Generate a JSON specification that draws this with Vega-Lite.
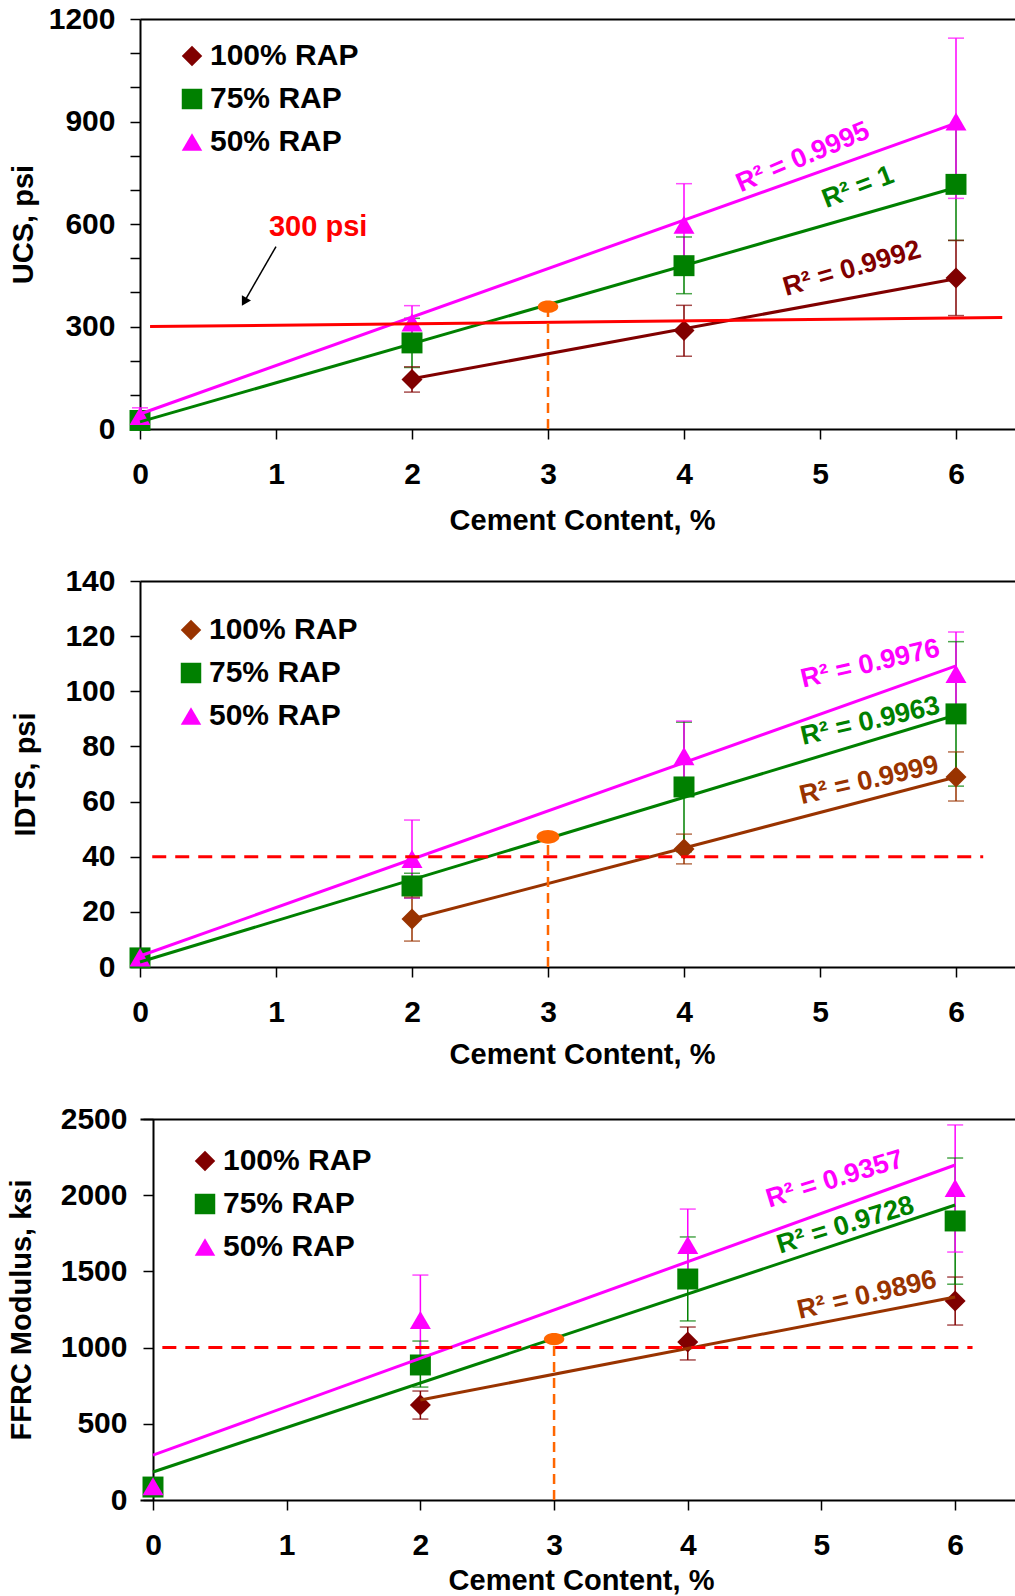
{
  "$schema": "https://vega.github.io/schema/vega-lite/v6.json",
  "background": "white",
  "padding": {"left": 7, "top": 4, "right": 0, "bottom": 0},
  "spacing": 152,
  "bounds": "flush",
  "resolve": {
    "scale": {"x": "independent", "y": "independent", "color": "independent", "shape": "independent", "fill": "independent", "stroke": "independent"},
    "legend": {"color": "independent", "shape": "independent"}
  },
  "config": {
    "font": "Liberation Sans",
    "view": {"stroke": null},
    "axis": {
      "labelFont": "Liberation Sans", "labelFontSize": 30, "labelFontWeight": "bold", "labelColor": "#000000",
      "titleFont": "Liberation Sans", "titleFontSize": 29, "titleFontWeight": "bold", "titleColor": "#000000",
      "domainColor": "#000000", "domainWidth": 2, "tickColor": "#000000", "tickWidth": 1.5, "tickSize": 10,
      "grid": false, "labelFlush": false, "labelOverlap": false
    },
    "legend": {
      "orient": "none", "labelFont": "Liberation Sans", "labelFontSize": 30, "labelFontWeight": "bold",
      "labelColor": "#000000", "symbolSize": 420, "symbolStrokeWidth": 0, "rowPadding": 13, "labelOffset": 3, "padding": 0
    }
  },
  "datasets": {
    "p1pts": [
      {"series": "100% RAP", "cc": 2, "v": 145, "lo": 108, "hi": 182},
      {"series": "100% RAP", "cc": 4, "v": 288, "lo": 213, "hi": 362},
      {"series": "100% RAP", "cc": 6, "v": 442, "lo": 332, "hi": 552},
      {"series": "75% RAP", "cc": 0, "v": 25, "lo": 15, "hi": 35},
      {"series": "75% RAP", "cc": 2, "v": 252, "lo": 180, "hi": 324},
      {"series": "75% RAP", "cc": 4, "v": 478, "lo": 396, "hi": 562},
      {"series": "75% RAP", "cc": 6, "v": 716, "lo": 552, "hi": 880},
      {"series": "50% RAP", "cc": 0, "v": 38, "lo": 14, "hi": 62},
      {"series": "50% RAP", "cc": 2, "v": 312, "lo": 263, "hi": 361},
      {"series": "50% RAP", "cc": 4, "v": 598, "lo": 478, "hi": 718},
      {"series": "50% RAP", "cc": 6, "v": 900, "lo": 675, "hi": 1144}
    ],
    "p1fit": [
      {"series": "100% RAP", "cc": 2, "v": 147}, {"series": "100% RAP", "cc": 6, "v": 440},
      {"series": "75% RAP", "cc": 0, "v": 21}, {"series": "75% RAP", "cc": 6, "v": 707},
      {"series": "50% RAP", "cc": 0, "v": 44}, {"series": "50% RAP", "cc": 6, "v": 895}
    ],
    "p1r2": [
      {"series": "50% RAP", "cc": 4.875, "v": 795, "label": "R² = 0.9995"},
      {"series": "75% RAP", "cc": 5.28, "v": 707, "label": "R² = 1"},
      {"series": "100% RAP", "cc": 5.235, "v": 469, "label": "R² = 0.9992"}
    ],
    "p1ref": [{"cc": 0.074, "v": 300}, {"cc": 6.34, "v": 326}],
    "p1opt": [{"cc": 3, "v": 358}],
    "p1optline": [{"cc": 3, "v": 0}, {"cc": 3, "v": 350}],
    "p1arrow": [{"cc": 1.0, "v": 534, "cc2": 0.76, "v2": 368}],
    "p1head": [{"cc": 0.766, "v": 372}],
    "p1note": [{"cc": 1.31, "v": 590, "label": "300 psi"}],
    "p2pts": [
      {"series": "100% RAP", "cc": 2, "v": 17.4, "lo": 9.4, "hi": 25.4},
      {"series": "100% RAP", "cc": 4, "v": 42.8, "lo": 37.4, "hi": 48.2},
      {"series": "100% RAP", "cc": 6, "v": 68.9, "lo": 60.2, "hi": 78},
      {"series": "75% RAP", "cc": 0, "v": 3.3, "lo": 1.5, "hi": 5},
      {"series": "75% RAP", "cc": 2, "v": 29.4, "lo": 25, "hi": 34},
      {"series": "75% RAP", "cc": 4, "v": 65.3, "lo": 41.8, "hi": 88.8},
      {"series": "75% RAP", "cc": 6, "v": 91.8, "lo": 65.6, "hi": 118},
      {"series": "50% RAP", "cc": 0, "v": 3.5, "lo": 1.5, "hi": 5.5},
      {"series": "50% RAP", "cc": 2, "v": 39.2, "lo": 25, "hi": 53.3},
      {"series": "50% RAP", "cc": 4, "v": 76.5, "lo": 63.8, "hi": 89.2},
      {"series": "50% RAP", "cc": 6, "v": 106.3, "lo": 91.1, "hi": 121.5}
    ],
    "p2fit": [
      {"series": "100% RAP", "cc": 2, "v": 17.4}, {"series": "100% RAP", "cc": 6, "v": 68.9},
      {"series": "75% RAP", "cc": 0, "v": 1.8}, {"series": "75% RAP", "cc": 6, "v": 91.4},
      {"series": "50% RAP", "cc": 0, "v": 4.0}, {"series": "50% RAP", "cc": 6, "v": 109.2}
    ],
    "p2r2": [
      {"series": "50% RAP", "cc": 5.37, "v": 109.9, "label": "R² = 0.9976"},
      {"series": "75% RAP", "cc": 5.37, "v": 89.1, "label": "R² = 0.9963"},
      {"series": "100% RAP", "cc": 5.36, "v": 67.6, "label": "R² = 0.9999"}
    ],
    "p2ref": [{"cc": 0.09, "v": 40}, {"cc": 6.2, "v": 40}],
    "p2opt": [{"cc": 3, "v": 47.2}],
    "p2optline": [{"cc": 3, "v": 0}, {"cc": 3, "v": 45}],
    "p3pts": [
      {"series": "100% RAP", "cc": 2, "v": 623, "lo": 531, "hi": 715},
      {"series": "100% RAP", "cc": 4, "v": 1037, "lo": 919, "hi": 1135},
      {"series": "100% RAP", "cc": 6, "v": 1306, "lo": 1148, "hi": 1463},
      {"series": "75% RAP", "cc": 0, "v": 85, "lo": 70, "hi": 100},
      {"series": "75% RAP", "cc": 2, "v": 886, "lo": 741, "hi": 1043},
      {"series": "75% RAP", "cc": 4, "v": 1450, "lo": 1175, "hi": 1726},
      {"series": "75% RAP", "cc": 6, "v": 1831, "lo": 1416, "hi": 2244},
      {"series": "50% RAP", "cc": 0, "v": 90, "lo": 80, "hi": 100},
      {"series": "50% RAP", "cc": 2, "v": 1181, "lo": 886, "hi": 1476},
      {"series": "50% RAP", "cc": 4, "v": 1673, "lo": 1437, "hi": 1909},
      {"series": "50% RAP", "cc": 6, "v": 2047, "lo": 1627, "hi": 2461}
    ],
    "p3fit": [
      {"series": "100% RAP", "cc": 2, "v": 656}, {"series": "100% RAP", "cc": 6, "v": 1332},
      {"series": "75% RAP", "cc": 0, "v": 184}, {"series": "75% RAP", "cc": 6, "v": 1936},
      {"series": "50% RAP", "cc": 0, "v": 295}, {"series": "50% RAP", "cc": 6, "v": 2198}
    ],
    "p3r2": [
      {"series": "50% RAP", "cc": 5.10, "v": 2104, "label": "R² = 0.9357"},
      {"series": "75% RAP", "cc": 5.18, "v": 1802, "label": "R² = 0.9728"},
      {"series": "100% RAP", "cc": 5.34, "v": 1343, "label": "R² = 0.9896"}
    ],
    "p3ref": [{"cc": 0.07, "v": 1000}, {"cc": 6.13, "v": 1000}],
    "p3opt": [{"cc": 3, "v": 1056}],
    "p3optline": [{"cc": 3, "v": 0}, {"cc": 3, "v": 1030}]
  },
  "vconcat": [
    {
      "width": 884, "height": 410,
      "resolve": {"axis": {"x": "independent"}},
      "layer": [
        {"data": {"name": "p1pts"}, "mark": {"type": "rule", "strokeWidth": 1.5},
         "encoding": {
           "x": {"field": "cc", "type": "quantitative", "scale": {"domain": [0, 6.5], "nice": false, "zero": false},
                 "axis": {"orient": "bottom", "values": [0, 1, 2, 3, 4, 5, 6], "format": "d", "title": "Cement Content, %", "labelPadding": 20, "titlePadding": 17, "labelOverlap": false}},
           "y": {"field": "lo", "type": "quantitative", "scale": {"domain": [0, 1200], "nice": false, "zero": false},
                 "axis": {"values": [0, 100, 200, 300, 400, 500, 600, 700, 800, 900, 1000, 1100, 1200], "format": "d", "labelOverlap": false, "labelExpr": "datum.value % 300 === 0 ? datum.label : ''", "title": "UCS, psi", "labelPadding": 15, "titlePadding": 10}},
           "y2": {"field": "hi"},
           "stroke": {"field": "series", "type": "nominal", "scale": {"domain": ["50% RAP", "75% RAP", "100% RAP"], "range": ["#FF00FF", "#008000", "#800000"]}, "legend": null}
         }},
        {"data": {"name": "p1pts"}, "mark": {"type": "tick", "orient": "horizontal", "size": 16, "thickness": 1.5},
         "encoding": {
           "x": {"field": "cc", "type": "quantitative", "axis": null},
           "y": {"field": "lo", "type": "quantitative", "axis": {"values": [0, 100, 200, 300, 400, 500, 600, 700, 800, 900, 1000, 1100, 1200], "format": "d", "labelOverlap": false, "labelExpr": "datum.value % 300 === 0 ? datum.label : ''", "title": "UCS, psi", "labelPadding": 15, "titlePadding": 10}},
           "fill": {"field": "series", "type": "nominal", "scale": {"domain": ["50% RAP", "75% RAP", "100% RAP"], "range": ["#FF00FF", "#008000", "#800000"]}, "legend": null}
         }},
        {"data": {"name": "p1pts"}, "mark": {"type": "tick", "orient": "horizontal", "size": 16, "thickness": 1.5},
         "encoding": {
           "x": {"field": "cc", "type": "quantitative", "axis": null},
           "y": {"field": "hi", "type": "quantitative", "axis": {"values": [0, 100, 200, 300, 400, 500, 600, 700, 800, 900, 1000, 1100, 1200], "format": "d", "labelOverlap": false, "labelExpr": "datum.value % 300 === 0 ? datum.label : ''", "title": "UCS, psi", "labelPadding": 15, "titlePadding": 10}},
           "fill": {"field": "series", "type": "nominal", "scale": {"domain": ["50% RAP", "75% RAP", "100% RAP"], "range": ["#FF00FF", "#008000", "#800000"]}, "legend": null}
         }},
        {"data": {"name": "p1pts"}, "mark": {"type": "point", "filled": true, "opacity": 1, "size": 440, "strokeWidth": 0},
         "encoding": {
           "x": {"field": "cc", "type": "quantitative", "axis": null},
           "y": {"field": "v", "type": "quantitative", "axis": {"values": [0, 100, 200, 300, 400, 500, 600, 700, 800, 900, 1000, 1100, 1200], "format": "d", "labelOverlap": false, "labelExpr": "datum.value % 300 === 0 ? datum.label : ''", "title": "UCS, psi", "labelPadding": 15, "titlePadding": 10}},
           "color": {"field": "series", "type": "nominal", "scale": {"domain": ["100% RAP", "75% RAP", "50% RAP"], "range": ["#800000", "#008000", "#FF00FF"]}, "legend": {"orient": "none", "title": null, "legendX": 37, "legendY": 22}},
           "shape": {"field": "series", "type": "nominal", "scale": {"domain": ["100% RAP", "75% RAP", "50% RAP"], "range": ["diamond", "square", "triangle-up"]}, "legend": {"orient": "none", "title": null, "legendX": 37, "legendY": 22}}
         }},
        {"data": {"name": "p1fit"}, "transform": [{"filter": "datum.series === '100% RAP'"}], "mark": {"type": "line", "color": "#800000", "strokeWidth": 3},
         "encoding": {"x": {"field": "cc", "type": "quantitative", "axis": null}, "y": {"field": "v", "type": "quantitative", "axis": {"values": [0, 100, 200, 300, 400, 500, 600, 700, 800, 900, 1000, 1100, 1200], "format": "d", "labelOverlap": false, "labelExpr": "datum.value % 300 === 0 ? datum.label : ''", "title": "UCS, psi", "labelPadding": 15, "titlePadding": 10}}}},
        {"data": {"name": "p1fit"}, "transform": [{"filter": "datum.series === '75% RAP'"}], "mark": {"type": "line", "color": "#008000", "strokeWidth": 3},
         "encoding": {"x": {"field": "cc", "type": "quantitative", "axis": null}, "y": {"field": "v", "type": "quantitative", "axis": {"values": [0, 100, 200, 300, 400, 500, 600, 700, 800, 900, 1000, 1100, 1200], "format": "d", "labelOverlap": false, "labelExpr": "datum.value % 300 === 0 ? datum.label : ''", "title": "UCS, psi", "labelPadding": 15, "titlePadding": 10}}}},
        {"data": {"name": "p1fit"}, "transform": [{"filter": "datum.series === '50% RAP'"}], "mark": {"type": "line", "color": "#FF00FF", "strokeWidth": 3},
         "encoding": {"x": {"field": "cc", "type": "quantitative", "axis": null}, "y": {"field": "v", "type": "quantitative", "axis": {"values": [0, 100, 200, 300, 400, 500, 600, 700, 800, 900, 1000, 1100, 1200], "format": "d", "labelOverlap": false, "labelExpr": "datum.value % 300 === 0 ? datum.label : ''", "title": "UCS, psi", "labelPadding": 15, "titlePadding": 10}}}},
        {"data": {"name": "p1ref"}, "mark": {"type": "line", "color": "#FF0000", "strokeWidth": 3},
         "encoding": {
           "x": {"field": "cc", "type": "quantitative", "axis": {"orient": "top", "labels": false, "ticks": false, "title": null, "domain": true}},
           "y": {"field": "v", "type": "quantitative", "axis": {"values": [0, 100, 200, 300, 400, 500, 600, 700, 800, 900, 1000, 1100, 1200], "format": "d", "labelOverlap": false, "labelExpr": "datum.value % 300 === 0 ? datum.label : ''", "title": "UCS, psi", "labelPadding": 15, "titlePadding": 10}}
         }},
        {"data": {"name": "p1optline"}, "mark": {"type": "line", "color": "#FF6600", "strokeWidth": 2.5, "strokeDash": [10, 6]},
         "encoding": {"x": {"field": "cc", "type": "quantitative", "axis": null}, "y": {"field": "v", "type": "quantitative", "axis": {"values": [0, 100, 200, 300, 400, 500, 600, 700, 800, 900, 1000, 1100, 1200], "format": "d", "labelOverlap": false, "labelExpr": "datum.value % 300 === 0 ? datum.label : ''", "title": "UCS, psi", "labelPadding": 15, "titlePadding": 10}}}},
        {"data": {"name": "p1opt"}, "mark": {"type": "point", "shape": "M -1 0 A 1 0.6 0 1 1 1 0 A 1 0.6 0 1 1 -1 0 Z", "filled": true, "opacity": 1, "size": 420, "color": "#FF6600", "strokeWidth": 0},
         "encoding": {"x": {"field": "cc", "type": "quantitative", "axis": null}, "y": {"field": "v", "type": "quantitative", "axis": {"values": [0, 100, 200, 300, 400, 500, 600, 700, 800, 900, 1000, 1100, 1200], "format": "d", "labelOverlap": false, "labelExpr": "datum.value % 300 === 0 ? datum.label : ''", "title": "UCS, psi", "labelPadding": 15, "titlePadding": 10}}}},
        {"data": {"name": "p1r2"}, "transform": [{"filter": "datum.series === '50% RAP'"}], "mark": {"type": "text", "color": "#FF00FF", "angle": 337, "fontSize": 27, "fontWeight": "bold", "font": "Liberation Sans"},
         "encoding": {"x": {"field": "cc", "type": "quantitative", "axis": null}, "y": {"field": "v", "type": "quantitative", "axis": {"values": [0, 100, 200, 300, 400, 500, 600, 700, 800, 900, 1000, 1100, 1200], "format": "d", "labelOverlap": false, "labelExpr": "datum.value % 300 === 0 ? datum.label : ''", "title": "UCS, psi", "labelPadding": 15, "titlePadding": 10}}, "text": {"field": "label"}}},
        {"data": {"name": "p1r2"}, "transform": [{"filter": "datum.series === '75% RAP'"}], "mark": {"type": "text", "color": "#008000", "angle": 339, "fontSize": 27, "fontWeight": "bold", "font": "Liberation Sans"},
         "encoding": {"x": {"field": "cc", "type": "quantitative", "axis": null}, "y": {"field": "v", "type": "quantitative", "axis": {"values": [0, 100, 200, 300, 400, 500, 600, 700, 800, 900, 1000, 1100, 1200], "format": "d", "labelOverlap": false, "labelExpr": "datum.value % 300 === 0 ? datum.label : ''", "title": "UCS, psi", "labelPadding": 15, "titlePadding": 10}}, "text": {"field": "label"}}},
        {"data": {"name": "p1r2"}, "transform": [{"filter": "datum.series === '100% RAP'"}], "mark": {"type": "text", "color": "#800000", "angle": 344, "fontSize": 27, "fontWeight": "bold", "font": "Liberation Sans"},
         "encoding": {"x": {"field": "cc", "type": "quantitative", "axis": null}, "y": {"field": "v", "type": "quantitative", "axis": {"values": [0, 100, 200, 300, 400, 500, 600, 700, 800, 900, 1000, 1100, 1200], "format": "d", "labelOverlap": false, "labelExpr": "datum.value % 300 === 0 ? datum.label : ''", "title": "UCS, psi", "labelPadding": 15, "titlePadding": 10}}, "text": {"field": "label"}}},
        {"data": {"name": "p1note"}, "mark": {"type": "text", "color": "#FF0000", "fontSize": 29, "fontWeight": "bold", "font": "Liberation Sans"},
         "encoding": {"x": {"field": "cc", "type": "quantitative", "axis": null}, "y": {"field": "v", "type": "quantitative", "axis": {"values": [0, 100, 200, 300, 400, 500, 600, 700, 800, 900, 1000, 1100, 1200], "format": "d", "labelOverlap": false, "labelExpr": "datum.value % 300 === 0 ? datum.label : ''", "title": "UCS, psi", "labelPadding": 15, "titlePadding": 10}}, "text": {"field": "label"}}},
        {"data": {"name": "p1arrow"}, "mark": {"type": "rule", "color": "#000000", "strokeWidth": 1.5},
         "encoding": {
           "x": {"field": "cc", "type": "quantitative", "axis": null},
           "y": {"field": "v", "type": "quantitative", "axis": {"values": [0, 100, 200, 300, 400, 500, 600, 700, 800, 900, 1000, 1100, 1200], "format": "d", "labelOverlap": false, "labelExpr": "datum.value % 300 === 0 ? datum.label : ''", "title": "UCS, psi", "labelPadding": 15, "titlePadding": 10}},
           "x2": {"field": "cc2"},
           "y2": {"field": "v2"}
         }},
        {"data": {"name": "p1head"}, "mark": {"type": "point", "shape": "triangle-up", "angle": 210, "filled": true, "opacity": 1, "size": 110, "color": "#000000", "strokeWidth": 0},
         "encoding": {"x": {"field": "cc", "type": "quantitative", "axis": null}, "y": {"field": "v", "type": "quantitative", "axis": {"values": [0, 100, 200, 300, 400, 500, 600, 700, 800, 900, 1000, 1100, 1200], "format": "d", "labelOverlap": false, "labelExpr": "datum.value % 300 === 0 ? datum.label : ''", "title": "UCS, psi", "labelPadding": 15, "titlePadding": 10}}}}
      ]
    },
    {
      "width": 884, "height": 386,
      "resolve": {"axis": {"x": "independent"}},
      "layer": [
        {"data": {"name": "p2pts"}, "mark": {"type": "rule", "strokeWidth": 1.5},
         "encoding": {
           "x": {"field": "cc", "type": "quantitative", "scale": {"domain": [0, 6.5], "nice": false, "zero": false},
                 "axis": {"orient": "bottom", "values": [0, 1, 2, 3, 4, 5, 6], "format": "d", "title": "Cement Content, %", "labelPadding": 20, "titlePadding": 13, "labelOverlap": false}},
           "y": {"field": "lo", "type": "quantitative", "scale": {"domain": [0, 140], "nice": false, "zero": false},
                 "axis": {"values": [0, 20, 40, 60, 80, 100, 120, 140], "format": "d", "labelOverlap": false, "title": "IDTS, psi", "labelPadding": 15, "titlePadding": 24}},
           "y2": {"field": "hi"},
           "stroke": {"field": "series", "type": "nominal", "scale": {"domain": ["50% RAP", "75% RAP", "100% RAP"], "range": ["#FF00FF", "#008000", "#993300"]}, "legend": null}
         }},
        {"data": {"name": "p2pts"}, "mark": {"type": "tick", "orient": "horizontal", "size": 16, "thickness": 1.5},
         "encoding": {
           "x": {"field": "cc", "type": "quantitative", "axis": null},
           "y": {"field": "lo", "type": "quantitative"},
           "fill": {"field": "series", "type": "nominal", "scale": {"domain": ["50% RAP", "75% RAP", "100% RAP"], "range": ["#FF00FF", "#008000", "#993300"]}, "legend": null}
         }},
        {"data": {"name": "p2pts"}, "mark": {"type": "tick", "orient": "horizontal", "size": 16, "thickness": 1.5},
         "encoding": {
           "x": {"field": "cc", "type": "quantitative", "axis": null},
           "y": {"field": "hi", "type": "quantitative"},
           "fill": {"field": "series", "type": "nominal", "scale": {"domain": ["50% RAP", "75% RAP", "100% RAP"], "range": ["#FF00FF", "#008000", "#993300"]}, "legend": null}
         }},
        {"data": {"name": "p2pts"}, "mark": {"type": "point", "filled": true, "opacity": 1, "size": 440, "strokeWidth": 0},
         "encoding": {
           "x": {"field": "cc", "type": "quantitative", "axis": null},
           "y": {"field": "v", "type": "quantitative"},
           "color": {"field": "series", "type": "nominal", "scale": {"domain": ["100% RAP", "75% RAP", "50% RAP"], "range": ["#993300", "#008000", "#FF00FF"]}, "legend": {"orient": "none", "title": null, "legendX": 36, "legendY": 34}},
           "shape": {"field": "series", "type": "nominal", "scale": {"domain": ["100% RAP", "75% RAP", "50% RAP"], "range": ["diamond", "square", "triangle-up"]}, "legend": {"orient": "none", "title": null, "legendX": 36, "legendY": 34}}
         }},
        {"data": {"name": "p2fit"}, "transform": [{"filter": "datum.series === '100% RAP'"}], "mark": {"type": "line", "color": "#993300", "strokeWidth": 3},
         "encoding": {"x": {"field": "cc", "type": "quantitative", "axis": null}, "y": {"field": "v", "type": "quantitative"}}},
        {"data": {"name": "p2fit"}, "transform": [{"filter": "datum.series === '75% RAP'"}], "mark": {"type": "line", "color": "#008000", "strokeWidth": 3},
         "encoding": {"x": {"field": "cc", "type": "quantitative", "axis": null}, "y": {"field": "v", "type": "quantitative"}}},
        {"data": {"name": "p2fit"}, "transform": [{"filter": "datum.series === '50% RAP'"}], "mark": {"type": "line", "color": "#FF00FF", "strokeWidth": 3},
         "encoding": {"x": {"field": "cc", "type": "quantitative", "axis": null}, "y": {"field": "v", "type": "quantitative"}}},
        {"data": {"name": "p2ref"}, "mark": {"type": "line", "color": "#FF0000", "strokeWidth": 3, "strokeDash": [14, 9]},
         "encoding": {
           "x": {"field": "cc", "type": "quantitative", "axis": {"orient": "top", "labels": false, "ticks": false, "title": null, "domain": true}},
           "y": {"field": "v", "type": "quantitative"}
         }},
        {"data": {"name": "p2optline"}, "mark": {"type": "line", "color": "#FF6600", "strokeWidth": 2.5, "strokeDash": [10, 6]},
         "encoding": {"x": {"field": "cc", "type": "quantitative", "axis": null}, "y": {"field": "v", "type": "quantitative"}}},
        {"data": {"name": "p2opt"}, "mark": {"type": "point", "shape": "M -1 0 A 1 0.6 0 1 1 1 0 A 1 0.6 0 1 1 -1 0 Z", "filled": true, "opacity": 1, "size": 520, "color": "#FF6600", "strokeWidth": 0},
         "encoding": {"x": {"field": "cc", "type": "quantitative", "axis": null}, "y": {"field": "v", "type": "quantitative"}}},
        {"data": {"name": "p2r2"}, "transform": [{"filter": "datum.series === '50% RAP'"}], "mark": {"type": "text", "color": "#FF00FF", "angle": 347, "fontSize": 27, "fontWeight": "bold", "font": "Liberation Sans"},
         "encoding": {"x": {"field": "cc", "type": "quantitative", "axis": null}, "y": {"field": "v", "type": "quantitative"}, "text": {"field": "label"}}},
        {"data": {"name": "p2r2"}, "transform": [{"filter": "datum.series === '75% RAP'"}], "mark": {"type": "text", "color": "#008000", "angle": 347, "fontSize": 27, "fontWeight": "bold", "font": "Liberation Sans"},
         "encoding": {"x": {"field": "cc", "type": "quantitative", "axis": null}, "y": {"field": "v", "type": "quantitative"}, "text": {"field": "label"}}},
        {"data": {"name": "p2r2"}, "transform": [{"filter": "datum.series === '100% RAP'"}], "mark": {"type": "text", "color": "#993300", "angle": 347, "fontSize": 27, "fontWeight": "bold", "font": "Liberation Sans"},
         "encoding": {"x": {"field": "cc", "type": "quantitative", "axis": null}, "y": {"field": "v", "type": "quantitative"}, "text": {"field": "label"}}}
      ]
    },
    {
      "width": 882, "height": 381,
      "resolve": {"axis": {"x": "independent"}},
      "layer": [
        {"data": {"name": "p3pts"}, "mark": {"type": "rule", "strokeWidth": 1.5},
         "encoding": {
           "x": {"field": "cc", "type": "quantitative", "scale": {"domain": [-0.0972, 6.5], "nice": false, "zero": false},
                 "axis": {"orient": "bottom", "values": [0, 1, 2, 3, 4, 5, 6], "format": "d", "title": "Cement Content, %", "labelPadding": 20, "titlePadding": 6, "labelOverlap": false}},
           "y": {"field": "lo", "type": "quantitative", "scale": {"domain": [0, 2500], "nice": false, "zero": false},
                 "axis": {"values": [0, 500, 1000, 1500, 2000, 2500], "format": "d", "labelOverlap": false, "title": "FFRC Modulus, ksi", "labelPadding": 16, "titlePadding": 24, "offset": -13}},
           "y2": {"field": "hi"},
           "stroke": {"field": "series", "type": "nominal", "scale": {"domain": ["50% RAP", "75% RAP", "100% RAP"], "range": ["#FF00FF", "#008000", "#800000"]}, "legend": null}
         }},
        {"data": {"name": "p3pts"}, "mark": {"type": "tick", "orient": "horizontal", "size": 16, "thickness": 1.5},
         "encoding": {
           "x": {"field": "cc", "type": "quantitative", "axis": null},
           "y": {"field": "lo", "type": "quantitative"},
           "fill": {"field": "series", "type": "nominal", "scale": {"domain": ["50% RAP", "75% RAP", "100% RAP"], "range": ["#FF00FF", "#008000", "#800000"]}, "legend": null}
         }},
        {"data": {"name": "p3pts"}, "mark": {"type": "tick", "orient": "horizontal", "size": 16, "thickness": 1.5},
         "encoding": {
           "x": {"field": "cc", "type": "quantitative", "axis": null},
           "y": {"field": "hi", "type": "quantitative"},
           "fill": {"field": "series", "type": "nominal", "scale": {"domain": ["50% RAP", "75% RAP", "100% RAP"], "range": ["#FF00FF", "#008000", "#800000"]}, "legend": null}
         }},
        {"data": {"name": "p3pts"}, "mark": {"type": "point", "filled": true, "opacity": 1, "size": 440, "strokeWidth": 0},
         "encoding": {
           "x": {"field": "cc", "type": "quantitative", "axis": null},
           "y": {"field": "v", "type": "quantitative"},
           "color": {"field": "series", "type": "nominal", "scale": {"domain": ["100% RAP", "75% RAP", "50% RAP"], "range": ["#800000", "#008000", "#FF00FF"]}, "legend": {"orient": "none", "title": null, "legendX": 50, "legendY": 27}},
           "shape": {"field": "series", "type": "nominal", "scale": {"domain": ["100% RAP", "75% RAP", "50% RAP"], "range": ["diamond", "square", "triangle-up"]}, "legend": {"orient": "none", "title": null, "legendX": 50, "legendY": 27}}
         }},
        {"data": {"name": "p3fit"}, "transform": [{"filter": "datum.series === '100% RAP'"}], "mark": {"type": "line", "color": "#993300", "strokeWidth": 3},
         "encoding": {"x": {"field": "cc", "type": "quantitative", "axis": null}, "y": {"field": "v", "type": "quantitative"}}},
        {"data": {"name": "p3fit"}, "transform": [{"filter": "datum.series === '75% RAP'"}], "mark": {"type": "line", "color": "#008000", "strokeWidth": 3},
         "encoding": {"x": {"field": "cc", "type": "quantitative", "axis": null}, "y": {"field": "v", "type": "quantitative"}}},
        {"data": {"name": "p3fit"}, "transform": [{"filter": "datum.series === '50% RAP'"}], "mark": {"type": "line", "color": "#FF00FF", "strokeWidth": 3},
         "encoding": {"x": {"field": "cc", "type": "quantitative", "axis": null}, "y": {"field": "v", "type": "quantitative"}}},
        {"data": {"name": "p3ref"}, "mark": {"type": "line", "color": "#FF0000", "strokeWidth": 3, "strokeDash": [14, 9]},
         "encoding": {
           "x": {"field": "cc", "type": "quantitative", "axis": {"orient": "top", "labels": false, "ticks": false, "title": null, "domain": true}},
           "y": {"field": "v", "type": "quantitative"}
         }},
        {"data": {"name": "p3optline"}, "mark": {"type": "line", "color": "#FF6600", "strokeWidth": 2.5, "strokeDash": [10, 6]},
         "encoding": {"x": {"field": "cc", "type": "quantitative", "axis": null}, "y": {"field": "v", "type": "quantitative"}}},
        {"data": {"name": "p3opt"}, "mark": {"type": "point", "shape": "M -1 0 A 1 0.6 0 1 1 1 0 A 1 0.6 0 1 1 -1 0 Z", "filled": true, "opacity": 1, "size": 420, "color": "#FF6600", "strokeWidth": 0},
         "encoding": {"x": {"field": "cc", "type": "quantitative", "axis": null}, "y": {"field": "v", "type": "quantitative"}}},
        {"data": {"name": "p3r2"}, "transform": [{"filter": "datum.series === '50% RAP'"}], "mark": {"type": "text", "color": "#FF00FF", "angle": 343, "fontSize": 27, "fontWeight": "bold", "font": "Liberation Sans"},
         "encoding": {"x": {"field": "cc", "type": "quantitative", "axis": null}, "y": {"field": "v", "type": "quantitative"}, "text": {"field": "label"}}},
        {"data": {"name": "p3r2"}, "transform": [{"filter": "datum.series === '75% RAP'"}], "mark": {"type": "text", "color": "#008000", "angle": 343, "fontSize": 27, "fontWeight": "bold", "font": "Liberation Sans"},
         "encoding": {"x": {"field": "cc", "type": "quantitative", "axis": null}, "y": {"field": "v", "type": "quantitative"}, "text": {"field": "label"}}},
        {"data": {"name": "p3r2"}, "transform": [{"filter": "datum.series === '100% RAP'"}], "mark": {"type": "text", "color": "#993300", "angle": 347, "fontSize": 27, "fontWeight": "bold", "font": "Liberation Sans"},
         "encoding": {"x": {"field": "cc", "type": "quantitative", "axis": null}, "y": {"field": "v", "type": "quantitative"}, "text": {"field": "label"}}}
      ]
    }
  ]
}
